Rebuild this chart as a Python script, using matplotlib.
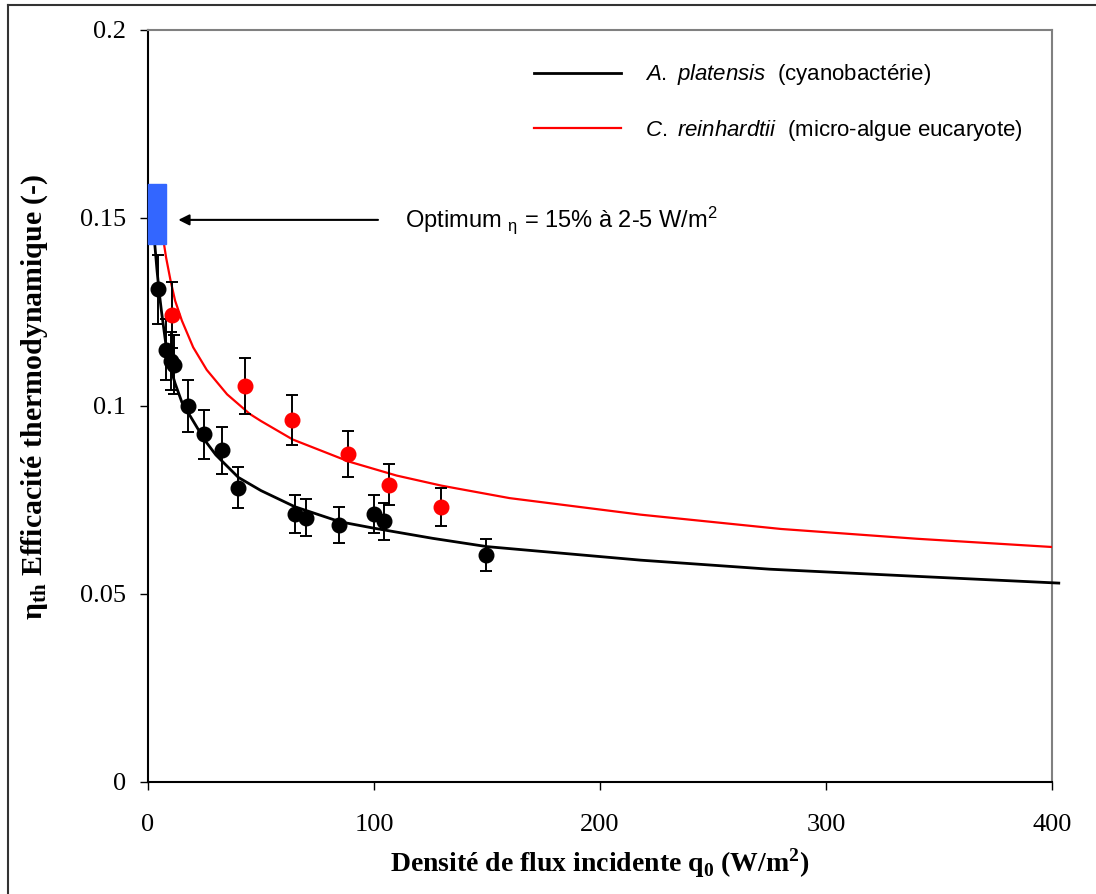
import matplotlib
matplotlib.use("Agg")
import matplotlib.pyplot as plt
from matplotlib.patches import Rectangle
from matplotlib.lines import Line2D

plt.rcParams['mathtext.fontset'] = 'custom'
plt.rcParams['mathtext.rm'] = 'Liberation Sans'
plt.rcParams['mathtext.it'] = 'Liberation Sans:italic'
plt.rcParams['mathtext.bf'] = 'Liberation Serif:bold'

# measured points: A. platensis (black) and C. reinhardtii (red)
q_plat = [4.6, 7.8, 10.0, 11.5, 17.8, 24.9, 32.9, 40.0, 65.0, 69.9, 84.7, 100.0, 104.6, 149.4]
eta_plat = [0.131, 0.115, 0.112, 0.111, 0.100, 0.0925, 0.0882, 0.0783, 0.0712, 0.0703,
            0.0684, 0.0712, 0.0693, 0.0603]
err_plat = [0.0092, 0.0081, 0.0078, 0.0078, 0.0070, 0.0065, 0.0062, 0.0055, 0.0050, 0.0049,
            0.0048, 0.0050, 0.0049, 0.0042]

q_rein = [10.8, 43.1, 63.6, 88.6, 106.8, 129.6]
eta_rein = [0.1242, 0.1053, 0.0963, 0.0873, 0.0791, 0.0731]
err_rein = [0.0087, 0.0074, 0.0067, 0.0061, 0.0055, 0.0051]

# model curves
q_mod_plat = [2, 3, 4, 5, 6, 8, 10, 12, 15, 18, 20, 25, 30, 40, 50, 65, 85, 100, 126,
              150, 218, 275, 340, 403]
eta_mod_plat = [0.155, 0.143, 0.136, 0.130, 0.125, 0.116, 0.110, 0.106, 0.101, 0.098,
                0.096, 0.091, 0.087, 0.081, 0.0775, 0.0732, 0.0692, 0.0675, 0.0648,
                0.0626, 0.0590, 0.0566, 0.0547, 0.0529]

q_mod_rein = [7.1, 8, 10, 12, 15, 20, 26, 35, 45, 50, 64, 89, 110, 130, 160, 218, 280,
              340, 400]
eta_mod_rein = [0.143, 0.1395, 0.1333, 0.128, 0.1227, 0.1156, 0.1096, 0.1031, 0.0979,
                0.0960, 0.0911, 0.0852, 0.0815, 0.0788, 0.0755, 0.0711, 0.0673, 0.0647,
                0.0625]

# optimum zone
opt_q = (0, 8)
opt_eta = (0.143, 0.159)

fig = plt.figure(figsize=(10.96, 8.94), dpi=100)
ax = fig.add_axes([148/1096, 1-782/894, 904/1096, 752/894])

ax.plot(q_mod_plat, eta_mod_plat, color='black', lw=2, clip_on=False, zorder=3,
        label=r'$\it{A.\ platensis}$  (cyanobactérie)')
ax.plot(q_mod_rein, eta_mod_rein, color='red', lw=1.6, zorder=3,
        label=r'$\it{C.\ reinhardtii}$  (micro-algue eucaryote)')

ax.errorbar(q_plat, eta_plat, yerr=err_plat, fmt='o', color='black', ms=10.5,
            ecolor='black', elinewidth=1.4, capsize=4.5, capthick=1.4, zorder=4)
ax.errorbar(q_rein, eta_rein, yerr=err_rein, fmt='o', color='red', ms=10.5,
            ecolor='black', elinewidth=1.4, capsize=4.5, capthick=1.4, zorder=4)

ax.add_patch(Rectangle((opt_q[0], opt_eta[0]), opt_q[1]-opt_q[0], opt_eta[1]-opt_eta[0],
                       color='#3366ff', zorder=5, clip_on=False))
ax.annotate('', xy=(12.2, 0.1495), xytext=(103, 0.1495),
            arrowprops=dict(arrowstyle='-|>', color='black', lw=1.5, mutation_scale=16))
ax.text(113.7, 0.1495, r'Optimum $_{\mathrm{\eta}}$ = 15% à 2-5 W/m$^2$',
        family='Liberation Sans', fontsize=17, va='center', ha='left')

ax.set_xlim(0, 400)
ax.set_ylim(0, 0.2)
ax.set_xticks([0, 100, 200, 300, 400])
ax.set_yticks([0, 0.05, 0.1, 0.15, 0.2])
ax.set_yticklabels(['0', '0.05', '0.1', '0.15', '0.2'])
for lab in ax.get_xticklabels() + ax.get_yticklabels():
    lab.set_family('Liberation Serif')
    lab.set_fontsize(19)
ax.tick_params(axis='both', direction='out', length=6, width=1, color='black')
ax.tick_params(axis='x', pad=17)
ax.tick_params(axis='y', pad=10)

for s in ['left', 'bottom']:
    ax.spines[s].set_color('black')
    ax.spines[s].set_linewidth(1.5)
for s in ['top', 'right']:
    ax.spines[s].set_color('#808080')
    ax.spines[s].set_linewidth(1.5)

ax.set_xlabel(r'Densité de flux incidente q$_\mathbf{0}$ (W/m$^\mathbf{2}$)',
              family='Liberation Serif', fontweight='bold', fontsize=20)
ax.xaxis.set_label_coords(0.5, -0.085)
ax.set_ylabel(r'η$_\mathbf{th}$ Efficacité thermodynamique (-)',
              family='Liberation Serif', fontweight='bold', fontsize=21.5)
ax.yaxis.set_label_coords(-0.108, 0.512)

leg = ax.legend(loc='upper left', bbox_to_anchor=(0.427, 0.957), frameon=False,
                prop={'family': 'Liberation Sans', 'size': 16},
                handlelength=3.9, handletextpad=1.1, labelspacing=1.38, borderpad=0,
                borderaxespad=0)

# outer frame of the figure
fig.add_artist(Line2D([8/1096, 8/1096], [0, 1-5/894], transform=fig.transFigure,
                      color='#333333', lw=1.5))
fig.add_artist(Line2D([8/1096, 1], [1-5/894, 1-5/894], transform=fig.transFigure,
                      color='#333333', lw=1.5))

fig.savefig('out.png', dpi=100)
